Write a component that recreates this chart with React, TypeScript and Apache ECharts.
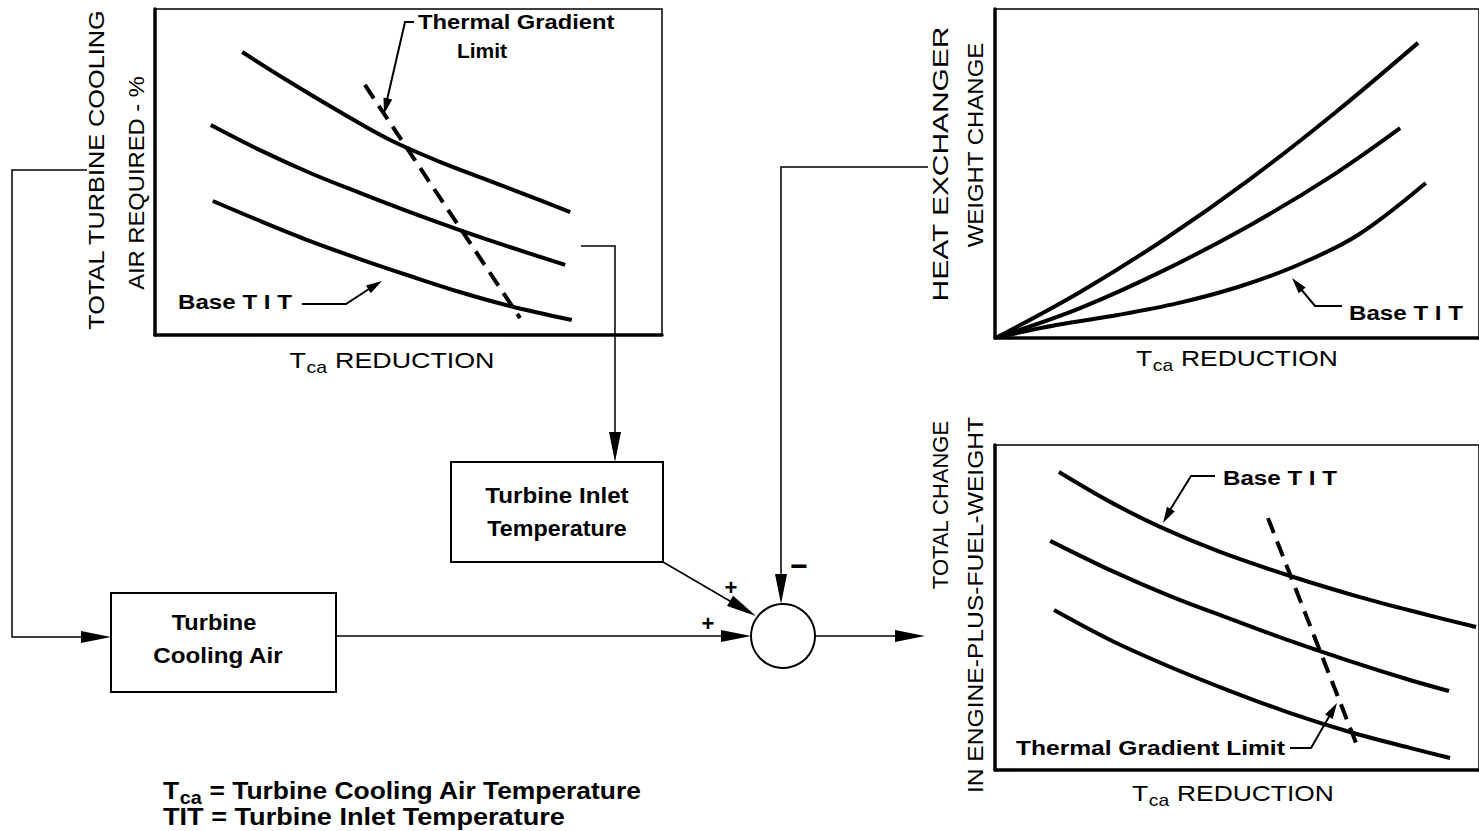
import React, { useEffect, useRef } from 'react';
import * as echarts from 'echarts';

// ---- Data (relative units, 0-100 on both axes of each panel) ----
// Top-left: total turbine cooling air required vs Tca reduction
const coolingHigh = [[17.2, 86.8], [26.6, 77.6], [36.5, 68.4], [46.4, 59.8], [56.2, 53.1], [66.1, 47.2], [75.9, 41.4], [81.9, 37.7]];
const coolingMid = [[11.0, 64.4], [20.7, 56.7], [30.6, 49.7], [40.4, 43.6], [50.3, 37.7], [60.1, 32.2], [70.0, 27.0], [80.9, 21.5]];
const coolingBase = [[11.4, 41.1], [20.7, 35.0], [30.6, 28.8], [40.4, 23.3], [50.3, 18.1], [60.1, 13.2], [70.0, 8.9], [82.2, 4.6]];
const coolingLimit = [[41.4, 76.7], [72.0, 5.2]];

// Top-right: heat exchanger weight change vs Tca reduction
const hxHigh = [[0.4, 0.2], [17.6, 14.0], [35.1, 30.1], [52.7, 48.3], [70.2, 68.4], [87.4, 89.7]];
const hxMid = [[0.4, 0.2], [17.6, 9.1], [35.1, 20.7], [52.7, 34.3], [69.2, 48.9], [83.7, 63.8]];
const hxBase = [[0.4, 0.2], [13.0, 4.0], [25.4, 7.0], [37.8, 10.6], [50.2, 15.5], [62.6, 22.2], [75.0, 31.3], [89.0, 47.1]];

// Bottom-right: total change in engine-plus-fuel weight vs Tca reduction
const totalBase = [[13.2, 91.7], [23.8, 82.5], [34.1, 74.8], [46.5, 67.1], [61.0, 59.7], [75.4, 53.2], [87.8, 48.3], [99.4, 44.0]];
const totalMid = [[11.4, 70.5], [23.8, 61.5], [36.2, 53.5], [48.6, 46.5], [61.0, 39.7], [73.3, 33.5], [85.7, 27.7], [93.8, 24.3]];
const totalLow = [[12.2, 49.2], [23.8, 40.0], [36.2, 31.7], [48.6, 24.3], [61.0, 17.5], [73.3, 11.7], [85.7, 6.8], [94.0, 3.7]];
const totalLimit = [[56.4, 77.5], [74.6, 8.3]];

const labels = {
  coolY1: 'TOTAL TURBINE COOLING',
  coolY2: 'AIR REQUIRED - %',
  hxY1: 'HEAT EXCHANGER',
  hxY2: 'WEIGHT CHANGE',
  totY1: 'TOTAL CHANGE',
  totY2: 'IN ENGINE-PLUS-FUEL-WEIGHT',
  xTitle: 'REDUCTION',
};

const SANS = '"Liberation Sans", Arial, Helvetica, sans-serif';

// Arial / Liberation Sans advance widths (em), used only to lay out subscripts
const W_REG: Record<string, number> = { T: 0.611, c: 0.5, a: 0.556 };
const W_BOLD: Record<string, number> = { T: 0.611, c: 0.556, a: 0.556 };

function arrowHead(tip: number[], from: number[], len: number, half: number) {
  const dx = tip[0] - from[0];
  const dy = tip[1] - from[1];
  const d = Math.sqrt(dx * dx + dy * dy) || 1;
  const ux = dx / d, uy = dy / d;
  const bx = tip[0] - ux * len, by = tip[1] - uy * len;
  return {
    type: 'polygon',
    shape: { points: [tip, [bx - uy * half, by + ux * half], [bx + uy * half, by - ux * half]] },
    style: { fill: '#000' },
    z: 20,
  };
}

function line(points: number[][], w = 1.5) {
  return { type: 'polyline', shape: { points }, style: { stroke: '#000', lineWidth: w, fill: null }, z: 15 };
}

function txt(x: number, y: number, text: string, size: number, opts: any = {}) {
  return {
    type: 'text',
    x,
    y,
    rotation: opts.rotation || 0,
    scaleX: opts.scaleX || 1,
    z: 25,
    style: {
      text,
      fill: '#000',
      fontSize: size,
      fontFamily: SANS,
      fontWeight: opts.weight || 'normal',
      align: opts.align || 'center',
      verticalAlign: 'middle',
    },
  };
}

// "T" + subscript "ca" + rest
function tcaText(x: number, y: number, rest: string, size: number, scaleX: number, weight: string, centerWidth?: number) {
  const W = weight === 'bold' ? W_BOLD : W_REG;
  const sub = Math.round(size * 0.74);
  const wT = W.T * size;
  const wSub = (W.c + W.a) * sub;
  const left = centerWidth ? x - (centerWidth * scaleX) / 2 : x;
  const base = { fill: '#000', fontFamily: SANS, fontWeight: weight, align: 'left', verticalAlign: 'middle' };
  return {
    type: 'group',
    x: left,
    y,
    scaleX,
    z: 25,
    children: [
      { type: 'text', x: 0, y: 0, z: 25, style: { ...base, text: 'T', fontSize: size } },
      { type: 'text', x: wT + 0.5, y: size * 0.33, z: 25, style: { ...base, text: 'ca', fontSize: sub } },
      { type: 'text', x: wT + wSub + 1, y: 0, z: 25, style: { ...base, text: rest, fontSize: size } },
    ],
  };
}

export default function App() {
  const ref = useRef<HTMLDivElement>(null);
  useEffect(() => {
    if (!ref.current) return;
    const chart = echarts.init(ref.current, null, { renderer: 'svg' });

    const grids = [
      { left: 155, top: 9, width: 507, height: 326 },
      { left: 995, top: 9, width: 484, height: 329 },
      { left: 995, top: 445, width: 484, height: 325 },
    ].map((g) => ({ ...g, show: true, borderColor: '#000', borderWidth: 1.5, backgroundColor: 'transparent' }));

    const axisBase = {
      type: 'value',
      min: 0,
      max: 100,
      axisTick: { show: false },
      axisLabel: { show: false },
      splitLine: { show: false },
      axisLine: { show: true, onZero: false, lineStyle: { color: '#000', width: 3.5 } },
    };
    const xAxis = [0, 1, 2].map((i) => ({ ...axisBase, gridIndex: i }));
    const yAxis = [0, 1, 2].map((i) => ({ ...axisBase, gridIndex: i }));

    const curve = (data: number[][], gi: number, name: string) => ({
      type: 'line',
      name,
      xAxisIndex: gi,
      yAxisIndex: gi,
      data,
      smooth: 0.35,
      showSymbol: false,
      symbol: 'none',
      lineStyle: { color: '#000', width: 4 },
      silent: true,
    });
    const dashed = (data: number[][], gi: number, name: string) => ({
      type: 'line',
      name,
      xAxisIndex: gi,
      yAxisIndex: gi,
      data,
      showSymbol: false,
      symbol: 'none',
      lineStyle: { color: '#000', width: 4, type: [16, 9] },
      silent: true,
    });

    const series = [
      curve(coolingHigh, 0, 'High TIT'),
      curve(coolingMid, 0, 'Mid TIT'),
      curve(coolingBase, 0, 'Base TIT'),
      dashed(coolingLimit, 0, 'Thermal Gradient Limit'),
      curve(hxHigh, 1, 'High TIT'),
      curve(hxMid, 1, 'Mid TIT'),
      curve(hxBase, 1, 'Base TIT'),
      curve(totalBase, 2, 'Base TIT'),
      curve(totalMid, 2, 'Mid TIT'),
      curve(totalLow, 2, 'Low TIT'),
      dashed(totalLimit, 2, 'Thermal Gradient Limit'),
    ];

    const R = Math.PI / 2;
    // natural width of "Tca REDUCTION" at 22px regular
    const xTitleW = W_REG.T * 22 + (W_REG.c + W_REG.a) * 16 + 1 + (0.278 + 5.944) * 22;
    const graphic: any[] = [
      // rotated axis titles
      txt(97, 170, labels.coolY1, 22, { rotation: R, scaleX: 1.15 }),
      txt(136, 183, labels.coolY2, 22, { rotation: R, scaleX: 1.08 }),
      txt(940, 164, labels.hxY1, 22, { rotation: R, scaleX: 1.36 }),
      txt(975, 145, labels.hxY2, 22, { rotation: R, scaleX: 1.09 }),
      txt(940, 505, labels.totY1, 22, { rotation: R }),
      txt(975, 605, labels.totY2, 22, { rotation: R, scaleX: 1.12 }),
      // x axis titles
      tcaText(392, 360, ' ' + labels.xTitle, 22, 1.22, 'normal', xTitleW),
      tcaText(1237, 358, ' ' + labels.xTitle, 22, 1.2, 'normal', xTitleW),
      tcaText(1233, 793, ' ' + labels.xTitle, 22, 1.2, 'normal', xTitleW),

      // annotations top-left
      txt(418, 22, 'Thermal Gradient', 21, { align: 'left', weight: 'bold', scaleX: 1.13 }),
      txt(482, 50, 'Limit', 21, { weight: 'bold' }),
      line([[414, 22], [405, 22], [387, 100]], 2),
      arrowHead([384, 114], [390, 90], 16, 4.5),
      txt(178, 302, 'Base T I T', 21, { align: 'left', weight: 'bold', scaleX: 1.15 }),
      line([[302, 304], [346, 304], [372, 287]], 2),
      arrowHead([382, 281], [364, 292], 16, 4.5),

      // annotations top-right
      txt(1349, 313, 'Base T I T', 21, { align: 'left', weight: 'bold', scaleX: 1.15 }),
      line([[1342, 306], [1315, 306], [1300, 288]], 2),
      arrowHead([1292, 278], [1306, 295], 16, 4.5),

      // annotations bottom-right
      txt(1223, 478, 'Base T I T', 21, { align: 'left', weight: 'bold', scaleX: 1.15 }),
      line([[1215, 476], [1191, 476], [1170, 510]], 2),
      arrowHead([1163, 523], [1176, 500], 16, 4.5),
      txt(1016, 748, 'Thermal Gradient Limit', 21, { align: 'left', weight: 'bold', scaleX: 1.17 }),
      line([[1290, 748], [1311, 748], [1330, 715]], 2),
      arrowHead([1337, 703], [1324, 725], 16, 4.5),

      // block diagram
      { type: 'rect', shape: { x: 451, y: 462, width: 212, height: 100 }, style: { fill: '#fff', stroke: '#000', lineWidth: 2 }, z: 10 },
      txt(557, 495, 'Turbine Inlet', 22, { weight: 'bold', scaleX: 1.1 }),
      txt(557, 528, 'Temperature', 22, { weight: 'bold', scaleX: 1.06 }),
      { type: 'rect', shape: { x: 111, y: 593, width: 225, height: 99 }, style: { fill: '#fff', stroke: '#000', lineWidth: 2 }, z: 10 },
      txt(214, 622, 'Turbine', 22, { weight: 'bold', scaleX: 1.07 }),
      txt(218, 655, 'Cooling Air', 22, { weight: 'bold', scaleX: 1.1 }),
      { type: 'circle', shape: { cx: 783, cy: 636, r: 32 }, style: { fill: '#fff', stroke: '#000', lineWidth: 2 }, z: 10 },

      // connectors
      line([[581, 246], [615, 246], [615, 450]]),
      arrowHead([615, 462], [615, 440], 30, 6),
      line([[87, 170], [12, 170], [12, 637], [85, 637]]),
      arrowHead([111, 637], [80, 637], 30, 6),
      line([[336, 636], [725, 636]]),
      arrowHead([751, 636], [720, 636], 30, 6),
      line([[663, 562], [735, 604]]),
      arrowHead([756, 616], [663, 562], 30, 6),
      line([[928, 167], [781, 167], [781, 580]]),
      arrowHead([781, 604], [781, 570], 30, 6),
      line([[815, 636], [900, 636]]),
      arrowHead([925, 636], [895, 636], 30, 6),
      txt(731, 587, '+', 22, { weight: 'bold' }),
      txt(708, 623, '+', 22, { weight: 'bold' }),
      txt(799, 565, '\u2212', 30, { weight: 'bold' }),

      // legend
      tcaText(163, 790, ' = Turbine Cooling Air Temperature', 24, 1.1, 'bold'),
      txt(163, 817, 'TIT = Turbine Inlet Temperature', 24, { align: 'left', weight: 'bold', scaleX: 1.13 }),
    ];

    chart.setOption({
      animation: false,
      backgroundColor: '#fff',
      grid: grids,
      xAxis,
      yAxis,
      series,
      graphic,
    });
    return () => chart.dispose();
  }, []);
  return <div ref={ref} style={{ position: 'fixed', left: 0, top: 0, width: 1479, height: 831, background: '#fff' }} />;
}
